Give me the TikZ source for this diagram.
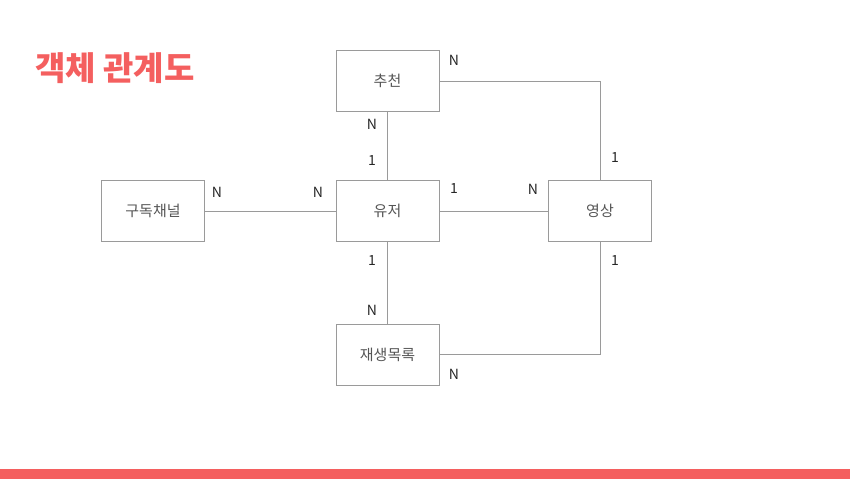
\documentclass[tikz,border=0pt]{standalone}
\usepackage{fontspec}
\newfontfamily\kr{Noto Sans CJK KR}
\usetikzlibrary{positioning}

\definecolor{accent}{HTML}{F45F5F}
\definecolor{edgegray}{HTML}{9A9A9A}
\definecolor{labelgray}{HTML}{555555}

\tikzset{
  entity/.style={draw=edgegray, line width=0.9pt, minimum width=103pt, minimum height=61pt,
    inner sep=0pt, text=labelgray, font=\kr\fontsize{15}{18}\selectfont},
  card/.style={inner sep=0pt, text=black!85, font=\kr\fontsize{14}{16}\selectfont},
  link/.style={draw=edgegray, line width=0.9pt}
}

\begin{document}
\begin{tikzpicture}[x=1pt, y=-1pt]

    \useasboundingbox (0,0) rectangle (850,479);
    \fill [accent] (0,469) rectangle (850,479);

    \node [inner sep=0pt, anchor=west, text=accent, font=\kr\bfseries\fontsize{33}{36}\selectfont] (title) at (35,68) {객체 관계도};

    \node [entity] (rec) at (387.5, 80.5) {추천};
    \node [entity] (user) at (387.5, 211) {유저};
    \node [entity] (sub) at (153, 211) {구독채널};
    \node [entity] (video) at (600, 211) {영상};
    \node [entity] (play) at (387.5, 354.5) {재생목록};

    \coordinate (rv) at (600, 81);
    \coordinate (pv) at (600, 354);

    \draw [link] (rec) -- (user);
    \draw [link] (sub) -- (user);
    \draw [link] (user) -- (video);
    \draw [link] (user) -- (play);
    \draw [link] (rec.east |- rv) -- (rv) -- (video.north);
    \draw [link] (play.east |- pv) -- (pv) -- (video.south);

    \node [card] (n1) at (454, 60) {N};
    \node [card] (n2) at (372, 124) {N};
    \node [card] (n3) at (372, 161) {1};
    \node [card] (n4) at (615, 158) {1};
    \node [card] (n5) at (217, 192) {N};
    \node [card] (n6) at (318, 192) {N};
    \node [card] (n7) at (454, 189) {1};
    \node [card] (n8) at (533, 189) {N};
    \node [card] (n9) at (372, 261) {1};
    \node [card] (n10) at (615, 261) {1};
    \node [card] (n11) at (372, 310) {N};
    \node [card] (n12) at (454, 374) {N};

\end{tikzpicture}
\end{document}
